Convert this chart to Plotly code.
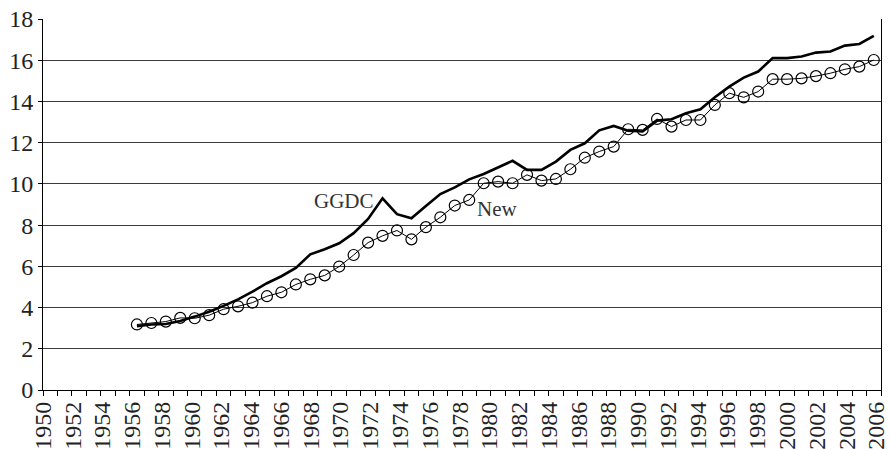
import plotly.graph_objects as go

# annual values, 1956-2007
years = list(range(1956, 2008))

ggdc = [3.10, 3.18, 3.20, 3.35, 3.56, 3.80, 4.08, 4.40, 4.77, 5.18, 5.52, 5.92,
        6.58, 6.83, 7.12, 7.61, 8.30, 9.30, 8.53, 8.33, 8.93, 9.51, 9.83, 10.22,
        10.48, 10.79, 11.12, 10.68, 10.68, 11.08, 11.65, 11.97, 12.60, 12.81, 12.58, 12.54,
        13.07, 13.14, 13.43, 13.62, 14.20, 14.72, 15.16, 15.45, 16.10, 16.10, 16.18, 16.37,
        16.42, 16.71, 16.79, 17.18]

new = [3.18, 3.25, 3.32, 3.50, 3.48, 3.63, 3.92, 4.06, 4.24, 4.55, 4.74, 5.12,
       5.37, 5.56, 5.99, 6.55, 7.15, 7.48, 7.74, 7.31, 7.90, 8.38, 8.95, 9.22,
       10.03, 10.11, 10.03, 10.44, 10.16, 10.24, 10.71, 11.27, 11.57, 11.81, 12.65, 12.62,
       13.15, 12.78, 13.10, 13.10, 13.83, 14.40, 14.20, 14.48, 15.08, 15.08, 15.12, 15.23,
       15.37, 15.56, 15.69, 16.01]

label_years = list(range(1950, 2007, 2))
label_text = [str(y) for y in label_years]

font_family = "Liberation Serif, Times New Roman, serif"

fig = go.Figure()

fig.add_trace(go.Scatter(x=years, y=ggdc, mode="lines", name="GGDC",
                         line=dict(color="black", width=2.6)))
fig.add_trace(go.Scatter(x=years, y=new, mode="lines+markers", name="New",
                         line=dict(color="black", width=1),
                         marker=dict(symbol="circle-open", size=11, color="black",
                                     line=dict(width=1.2))))
# invisible trace so the label axis gets drawn
fig.add_trace(go.Scatter(x=label_years, y=[None] * len(label_years), xaxis="x2",
                         mode="markers", showlegend=False, hoverinfo="skip"))

fig.add_annotation(x=1970.35, y=9.15, text="GGDC", showarrow=False,
                   font=dict(family=font_family, size=21, color="#333333"))
fig.add_annotation(x=1980.9, y=8.8, text="New", showarrow=False,
                   font=dict(family=font_family, size=21, color="#333333"))

fig.update_layout(
    width=890, height=450,
    margin=dict(l=43, r=9, t=19, b=60),
    paper_bgcolor="white", plot_bgcolor="white",
    showlegend=False,
    font=dict(family=font_family, size=24, color="#222222"),
    xaxis=dict(range=[1949.5, 2007.5], tickmode="linear", tick0=1949.5, dtick=1,
               ticks="outside", ticklen=5, tickcolor="black", tickwidth=1,
               showticklabels=False, showgrid=False, zeroline=False,
               showline=True, linecolor="black", linewidth=1, automargin=False),
    xaxis2=dict(overlaying="x", side="bottom", anchor="y", range=[1950, 2006.3],
                tickmode="array", tickvals=label_years, ticktext=label_text,
                tickangle=-90, ticks="", ticklabelstandoff=6,
                showgrid=False, zeroline=False, showline=False, automargin=False),
    yaxis=dict(range=[0, 18], tickmode="linear", tick0=0, dtick=2,
               ticks="outside", ticklen=4, tickcolor="black", ticklabelstandoff=0,
               showgrid=True, gridcolor="#3a3a3a", gridwidth=1,
               zeroline=False, showline=True, linecolor="black", linewidth=1,
               mirror=True, automargin=False),
)

# drop the default 8px body margin so the figure sits at the window corner
fig.write_html("out.html", config={"displayModeBar": False},
               post_script="document.body.style.margin = '0px';")
